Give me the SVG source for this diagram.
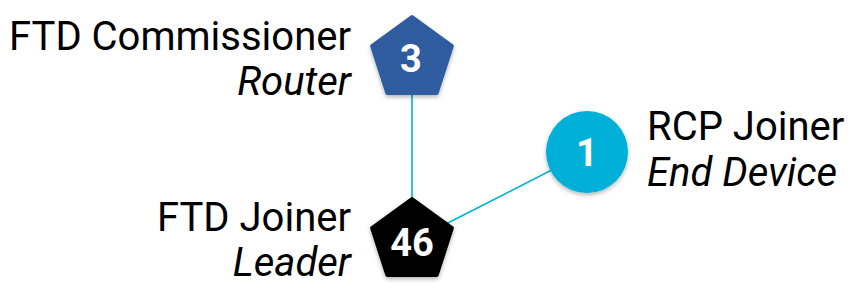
<svg xmlns="http://www.w3.org/2000/svg" width="854" height="300" viewBox="0 0 854 300">
<defs>
<filter id="sh" x="-30%" y="-30%" width="160%" height="170%">
<feDropShadow dx="0" dy="2" stdDeviation="2" flood-color="#000" flood-opacity="0.3"/>
</filter>
<style>
.lbl{font-family:Roboto,"Liberation Sans",sans-serif;font-size:40px;fill:#000}
.it{font-style:italic}
.num{font-family:Roboto,"Liberation Sans",sans-serif;font-weight:bold;font-size:38px;fill:#fff;text-anchor:middle}
.edge{stroke:#00b0d8;stroke-width:1.6;fill:none}
</style>
</defs>
<rect width="854" height="300" fill="#fff"/>
<g id="connectors">
<line class="edge" x1="412" y1="90" x2="412" y2="205"/>
<line class="edge" x1="587" y1="152" x2="440" y2="227"/>
</g>
<g id="node3">
<polygon points="412,17 451.9,46 436.7,93 387.3,93 372.1,46" fill="#2e5b9f" stroke="#2e5b9f" stroke-width="4" stroke-linejoin="round" filter="url(#sh)"/>
<text class="num" x="411" y="72">3</text>
<text class="lbl" x="351" y="50" text-anchor="end">FTD Commissioner</text>
<text class="lbl it" x="351" y="95" text-anchor="end">Router</text>
</g>
<g id="node46">
<polygon points="412,199 451.9,228 436.7,275 387.3,275 372.1,228" fill="#000" stroke="#000" stroke-width="4" stroke-linejoin="round" filter="url(#sh)"/>
<text class="num" x="412" y="256">46</text>
<text class="lbl" x="351" y="231" text-anchor="end">FTD Joiner</text>
<text class="lbl it" x="351" y="276" text-anchor="end">Leader</text>
</g>
<g id="node1">
<circle cx="587" cy="152" r="41" fill="#00b0d8" filter="url(#sh)"/>
<text class="num" x="587" y="166">1</text>
<text class="lbl" x="647" y="140">RCP Joiner</text>
<text class="lbl it" x="647" y="186">End Device</text>
</g>
</svg>
